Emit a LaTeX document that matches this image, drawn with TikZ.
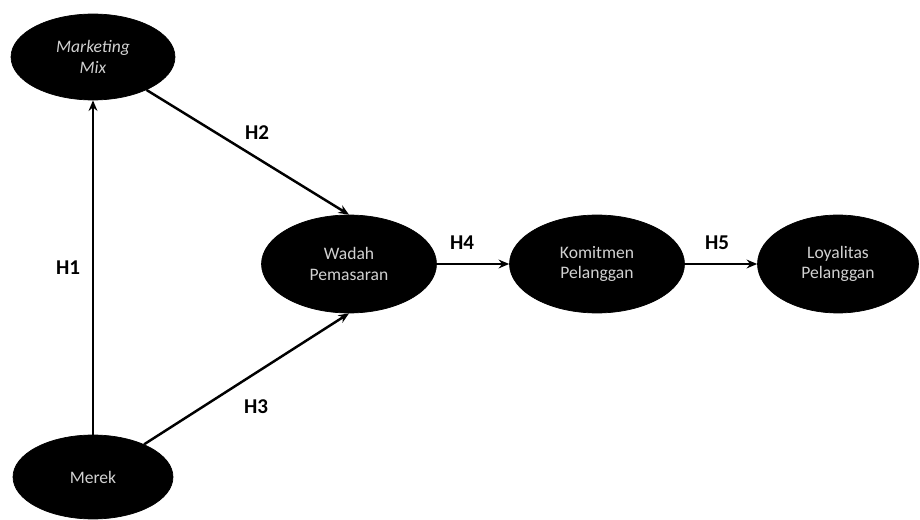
\documentclass[tikz,border=0pt]{standalone}
\usepackage{fontspec}
\setmainfont{Carlito}
\usetikzlibrary{shapes.geometric,arrows.meta}
\tikzset{
  var/.style={ellipse, fill=black, draw=black, inner sep=0pt, align=center,
    text=white!82!black, font=\fontsize{10}{11.5}\selectfont},
  arr/.style={-{Stealth[length=6pt,width=5pt]}, line width=1.4pt},
  hyp/.style={font=\fontsize{12}{14}\selectfont\bfseries}
}
\begin{document}
\begin{tikzpicture}[x=0.02cm, y=-0.02cm, line join=round]
				\useasboundingbox (0,0) rectangle (920,520);
				\node[var, minimum width=3.28cm, minimum height=1.72cm] (mm) at (93,57) {\itshape Marketing\\ \itshape Mix};
				\node[var, minimum width=3.2cm, minimum height=1.68cm] (merek) at (93,477) {Merek};
				\node[var, minimum width=3.5cm, minimum height=1.96cm] (wadah) at (349,264) {Wadah\\ Pemasaran};
				\node[var, minimum width=3.5cm, minimum height=1.96cm] (komit) at (597,264) {Komitmen\\ Pelanggan};
				\node[var, minimum width=3.22cm, minimum height=1.96cm] (loyal) at (838,264) {Loyalitas\\ Pelanggan};
				\draw[arr] (merek.north) -- (mm.south);
				\draw[arr] (mm) -- (wadah.north);
				\draw[arr] (merek) -- (wadah.south);
				\draw[arr] (wadah) -- (komit);
				\draw[arr] (komit) -- (loyal);
				\node[hyp] (h1) at (68,268) {H1};
				\node[hyp] (h2) at (257,133) {H2};
				\node[hyp] (h3) at (256,407) {H3};
				\node[hyp] (h4) at (462,243) {H4};
				\node[hyp] (h5) at (717,243) {H5};
		\end{tikzpicture}
\end{document}
